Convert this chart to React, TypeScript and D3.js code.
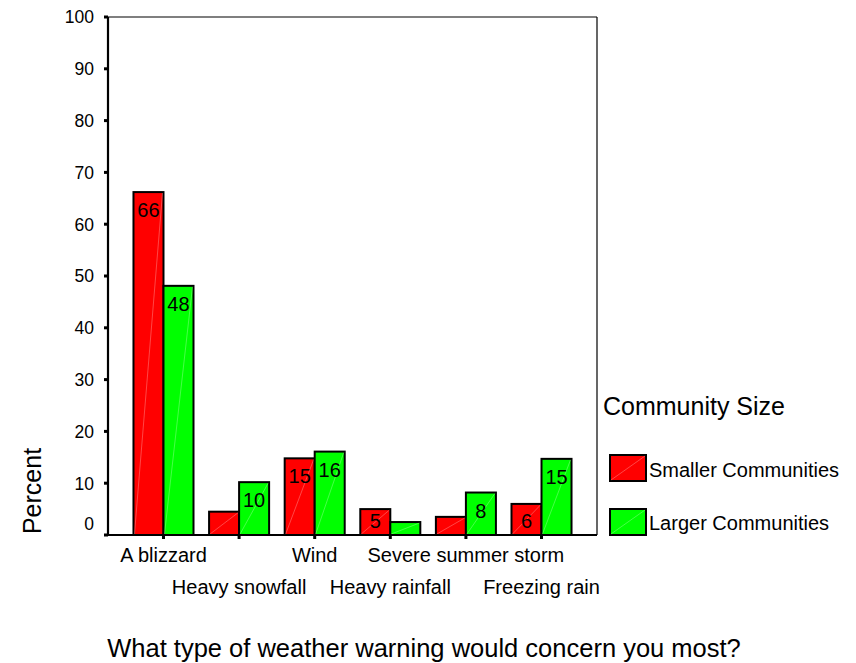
import React from "react";
import * as d3 from "d3";

const categories = ["A blizzard", "Heavy snowfall", "Wind", "Heavy rainfall", "Severe summer storm", "Freezing rain"];
const seriesNames = ["Smaller Communities", "Larger Communities"];
const smallerValues = [66.2, 4.5, 14.8, 5.0, 3.5, 6.0];
const largerValues = [48.1, 10.2, 16.1, 2.5, 8.2, 14.7];
const smallerLabels = ["66", "", "15", "5", "", "6"];
const largerLabels = ["48", "10", "16", "", "8", "15"];
const yTicks = [0, 10, 20, 30, 40, 50, 60, 70, 80, 90, 100];
const colors = ["#FF0000", "#00FF00"];

const FONT = "'Liberation Sans', Arial, Helvetica, sans-serif";

export default function App() {
  const W = 856, H = 663;
  const left = 108, right = 597, top = 17, bottom = 535;

  const y = d3.scaleLinear().domain([0, 100]).range([bottom, top]);
  const x = d3.scaleBand().domain(categories).range([left, right]).paddingInner(0.206).paddingOuter(0.337);
  const xs = d3.scaleBand().domain(seriesNames).range([0, x.bandwidth()]);

  const seriesValues = [smallerValues, largerValues];
  const seriesLabels = [smallerLabels, largerLabels];

  return (
    <svg width={W} height={H} style={{ position: "absolute", left: 0, top: 0, background: "#fff" }} fontFamily={FONT}>
      <rect x={0} y={0} width={W} height={H} fill="#fff" />
      {/* frame top/right */}
      <line x1={left} x2={right} y1={top} y2={top} stroke="#000" strokeWidth={1.2} />
      <line x1={right} x2={right} y1={top} y2={bottom} stroke="#000" strokeWidth={1.2} />

      {/* bars */}
      {seriesNames.map((s, si) =>
        categories.map((c, ci) => {
          const v = seriesValues[si][ci];
          const bx = (x(c) as number) + (xs(s) as number);
          const bw = xs.bandwidth();
          const by = y(v);
          const bh = bottom - by;
          const lbl = seriesLabels[si][ci];
          const baseline = Math.min(by + 25, bottom - 7);
          return (
            <g key={s + c}>
              <rect x={bx} y={by} width={bw} height={bh} fill={colors[si]} stroke="#000" strokeWidth={2} />
              <line x1={bx + 1} y1={bottom - 1} x2={bx + bw - 1} y2={by + 1} stroke="#fff" strokeOpacity={0.35} strokeWidth={0.8} />
              {lbl && (
                <text x={bx + bw / 2} y={baseline} textAnchor="middle" fontSize={20} fill="#000">{lbl}</text>
              )}
            </g>
          );
        })
      )}

      {/* y axis */}
      <line x1={left} x2={left} y1={top} y2={bottom + 1} stroke="#000" strokeWidth={2.2} />
      {yTicks.map((t) => (
        <g key={t}>
          <rect x={left - 4} y={y(t) - 1.5} width={4} height={3} fill="#000" />
          <text x={94} y={t === 0 ? y(t) - 11 : y(t)} dy="0.36em" textAnchor="end" fontSize={17.5} fill="#000">{t}</text>
        </g>
      ))}

      {/* x axis */}
      <line x1={left - 1} x2={right} y1={bottom} y2={bottom} stroke="#000" strokeWidth={2.2} />
      {categories.map((c, i) => {
        const cx = (x(c) as number) + x.bandwidth() / 2;
        return (
          <g key={c}>
            <rect x={cx - 1.5} y={bottom} width={3} height={4} fill="#000" />
            <text x={cx} y={i % 2 === 0 ? 562 : 594} textAnchor="middle" fontSize={20} fill="#000">{c}</text>
          </g>
        );
      })}

      {/* axis titles */}
      <text transform={`translate(41, 491) rotate(-90)`} textAnchor="middle" fontSize={25} fill="#000">Percent</text>
      <text x={424} y={657} textAnchor="middle" fontSize={25.5} fill="#000">What type of weather warning would concern you most?</text>

      {/* legend */}
      <text x={603} y={415} fontSize={25} fill="#000">Community Size</text>
      {seriesNames.map((s, i) => (
        <g key={s}>
          <rect x={610} y={455 + i * 54} width={36} height={26} fill={colors[i]} stroke="#000" strokeWidth={2} />
          <line x1={611} y1={480 + i * 54} x2={645} y2={456 + i * 54} stroke="#fff" strokeOpacity={0.35} strokeWidth={0.8} />
          <text x={649} y={477 + i * 53} fontSize={20} fill="#000">{s}</text>
        </g>
      ))}
    </svg>
  );
}
